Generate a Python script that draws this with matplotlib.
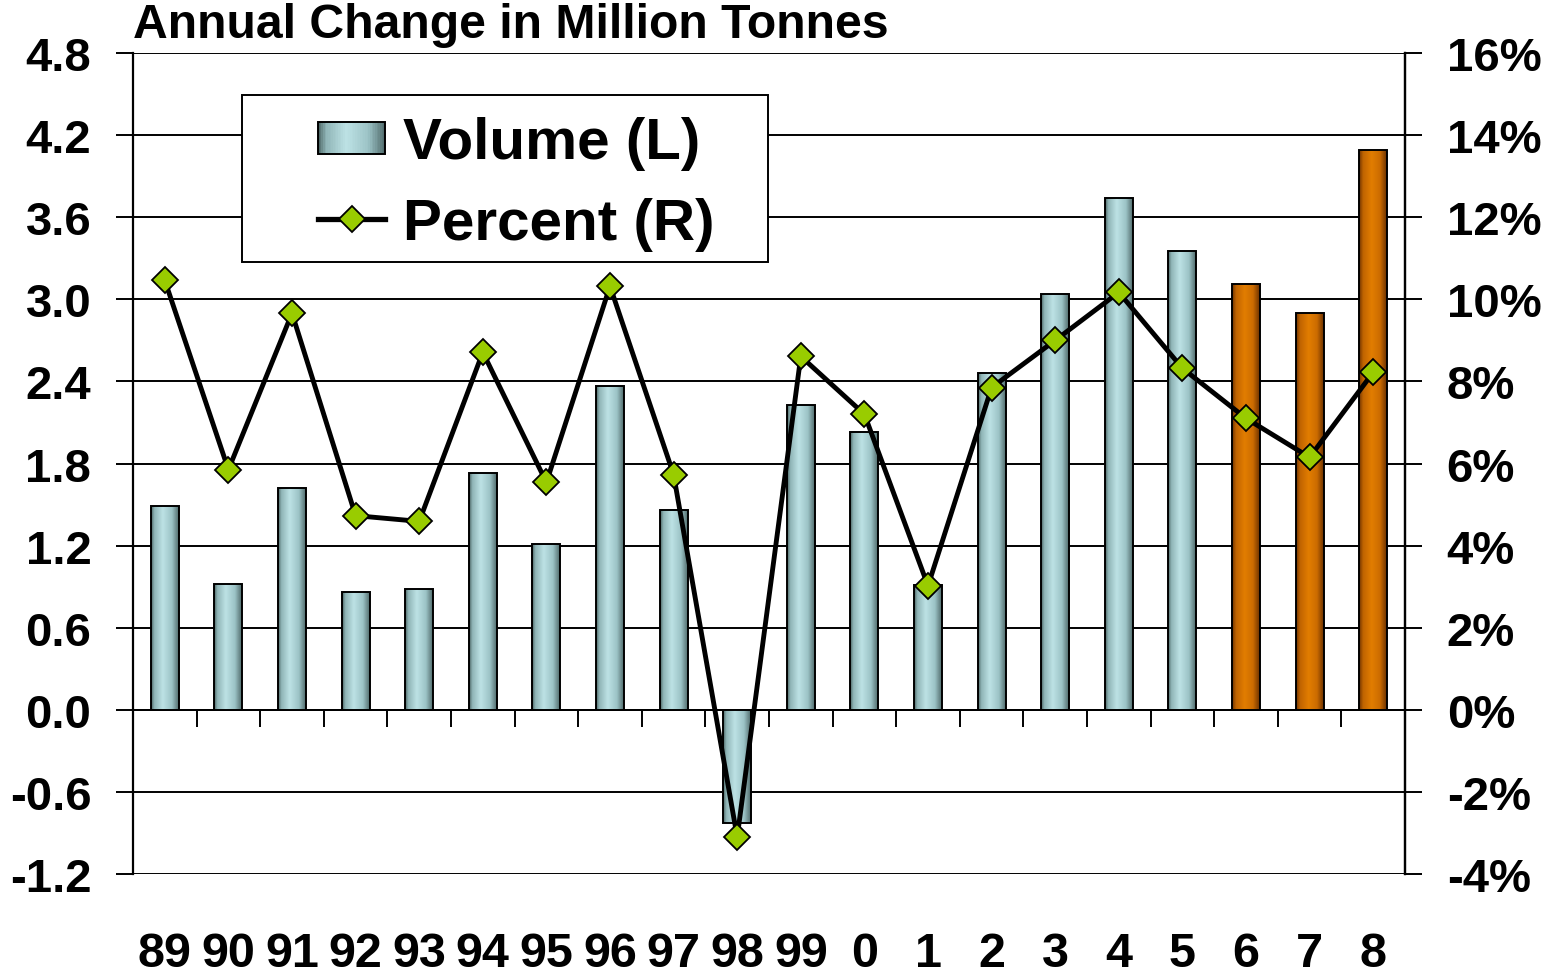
import matplotlib
matplotlib.use("Agg")
import matplotlib.pyplot as plt
import numpy as np
from matplotlib.colors import LinearSegmentedColormap
from matplotlib.patches import Rectangle
from matplotlib.lines import Line2D
from matplotlib.legend_handler import HandlerBase

plt.rcParams['font.family'] = ['Liberation Sans', 'DejaVu Sans']
plt.rcParams['font.weight'] = 'bold'

# ---- data ----
years = ['89', '90', '91', '92', '93', '94', '95', '96', '97', '98',
         '99', '0', '1', '2', '3', '4', '5', '6', '7', '8']
volume = [1.49, 0.92, 1.62, 0.86, 0.88, 1.73, 1.21, 2.37, 1.46, -0.83,
          2.23, 2.03, 0.91, 2.46, 3.04, 3.74, 3.35, 3.11, 2.90, 4.09]
percent = [10.46, 5.85, 9.66, 4.73, 4.59, 8.71, 5.54, 10.32, 5.73, -3.10,
           8.61, 7.20, 3.02, 7.85, 9.00, 10.17, 8.32, 7.10, 6.15, 8.22]
forecast_years = ['6', '7', '8']
left_ticks = [-1.2, -0.6, 0.0, 0.6, 1.2, 1.8, 2.4, 3.0, 3.6, 4.2, 4.8]
right_ticks = [-4, -2, 0, 2, 4, 6, 8, 10, 12, 14, 16]
title = 'Annual Change in Million Tonnes'

W, H = 1543, 979
fig = plt.figure(figsize=(W / 100, H / 100), dpi=100)
ax = fig.add_axes([133 / W, (979 - 875) / H, (1405 - 133) / W, (875 - 54) / H])
ax2 = ax.twinx()

blue_cmap = LinearSegmentedColormap.from_list(
    'b', [(0.0, '#48615f'), (0.12, '#8fb4b6'), (0.42, '#bde2e5'),
          (0.75, '#9cc3c6'), (1.0, '#4f6a6b')])
orange_cmap = LinearSegmentedColormap.from_list(
    'o', [(0.0, '#6e3200'), (0.15, '#c06400'), (0.45, '#e27d00'),
          (0.75, '#cc6c00'), (1.0, '#6a3000')])
grad = np.linspace(0, 1, 256).reshape(1, -1)

x = np.arange(len(years))
bw = 0.44
bars = ax.bar(x, volume, width=bw, facecolor='none', edgecolor='black',
              linewidth=1.4, zorder=3)
for yr, b in zip(years, bars):
    cmap = orange_cmap if yr in forecast_years else blue_cmap
    x0 = b.get_x()
    y0 = b.get_y()
    h = b.get_height()
    im = ax.imshow(grad, extent=[x0, x0 + b.get_width(), min(y0, y0 + h), max(y0, y0 + h)],
                   aspect='auto', cmap=cmap, zorder=2.9, interpolation='bilinear')
    im.set_clip_path(b)

ax.set_xlim(-0.5, len(years) - 0.5)
ax.set_ylim(left_ticks[0], left_ticks[-1])
ax.set_yticks(left_ticks)
ax.set_yticklabels([f'{v:.1f}' for v in left_ticks])
ax.set_axisbelow(True)
ax.yaxis.grid(True, color='black', linewidth=1.4)
ax.tick_params(axis='y', length=12, width=1.4, pad=18, labelsize=34, direction='out')

# x axis through zero with boundary ticks
ax.spines['bottom'].set_position(('data', 0))
ax.spines['bottom'].set_linewidth(1.4)
ax.spines['top'].set_visible(False)
ax.set_xticks(x)
ax.set_xticklabels([])
ax.set_xticks(np.arange(len(years) + 1) - 0.5, minor=True)
ax.tick_params(axis='x', which='major', length=0)
ax.tick_params(axis='x', which='minor', length=12, width=1.4, direction='out')
for s in ['left', 'right']:
    ax.spines[s].set_linewidth(1.6)

sec = ax.secondary_xaxis(0)
sec.set_xticks(x)
sec.set_xticklabels(years)
sec.tick_params(length=0, pad=41, labelsize=35)
sec.spines['bottom'].set_visible(False)

ax2.plot(x, percent, color='black', linewidth=3.5, marker='D', markersize=13,
         markerfacecolor='#99cc00', markeredgecolor='black', markeredgewidth=1.3,
         zorder=5)
ax2.set_ylim(right_ticks[0], right_ticks[-1])
ax2.set_yticks(right_ticks)
ax2.set_yticklabels([f'{v}%' for v in right_ticks])
ax2.tick_params(axis='y', length=12, width=1.4, pad=18, labelsize=34, direction='out')
for s in ['top', 'bottom', 'left']:
    ax2.spines[s].set_visible(False)
ax2.spines['right'].set_linewidth(1.6)

fig.text(133 / W, 1 - 38 / H, title, fontsize=34.7, fontweight='bold',
         ha='left', va='baseline')


class GradientHandler(HandlerBase):
    def create_artists(self, legend, orig_handle, xdescent, ydescent,
                       width, height, fontsize, trans):
        n = 40
        arts = []
        hh = height * 0.78
        yb = -ydescent + (height - hh) / 2
        for i in range(n):
            c = blue_cmap((i + 0.5) / n)
            r = Rectangle((-xdescent + width * i / n, yb), width / n * 1.05, hh,
                          facecolor=c, edgecolor='none', transform=trans)
            arts.append(r)
        arts.append(Rectangle((-xdescent, yb), width, hh, facecolor='none',
                              edgecolor='black', linewidth=1.4, transform=trans))
        return arts


# legend frame
fig.patches.append(Rectangle((242 / W, 1 - 263 / H), (768 - 242) / W, (263 - 96) / H,
                             transform=fig.transFigure, facecolor='white',
                             edgecolor='black', linewidth=1.4, zorder=4))

vol_handle = Rectangle((0, 0), 1, 1)
pct_handle = Line2D([], [], color='black', linewidth=3.8, marker='D', markersize=13,
                    markerfacecolor='#99cc00', markeredgecolor='black',
                    markeredgewidth=1.3)
leg = fig.legend([vol_handle, pct_handle], ['Volume (L)', 'Percent (R)'],
                 handler_map={Rectangle: GradientHandler()},
                 loc='upper left', bbox_to_anchor=(318 / W, 1 - 117 / H),
                 fontsize=42, frameon=False, handlelength=1.15, handletextpad=0.31,
                 borderpad=0, labelspacing=0.47, borderaxespad=0)
leg.set_zorder(5)
for t in leg.get_texts():
    t.set_fontweight('bold')

fig.savefig('out.png', dpi=100)
